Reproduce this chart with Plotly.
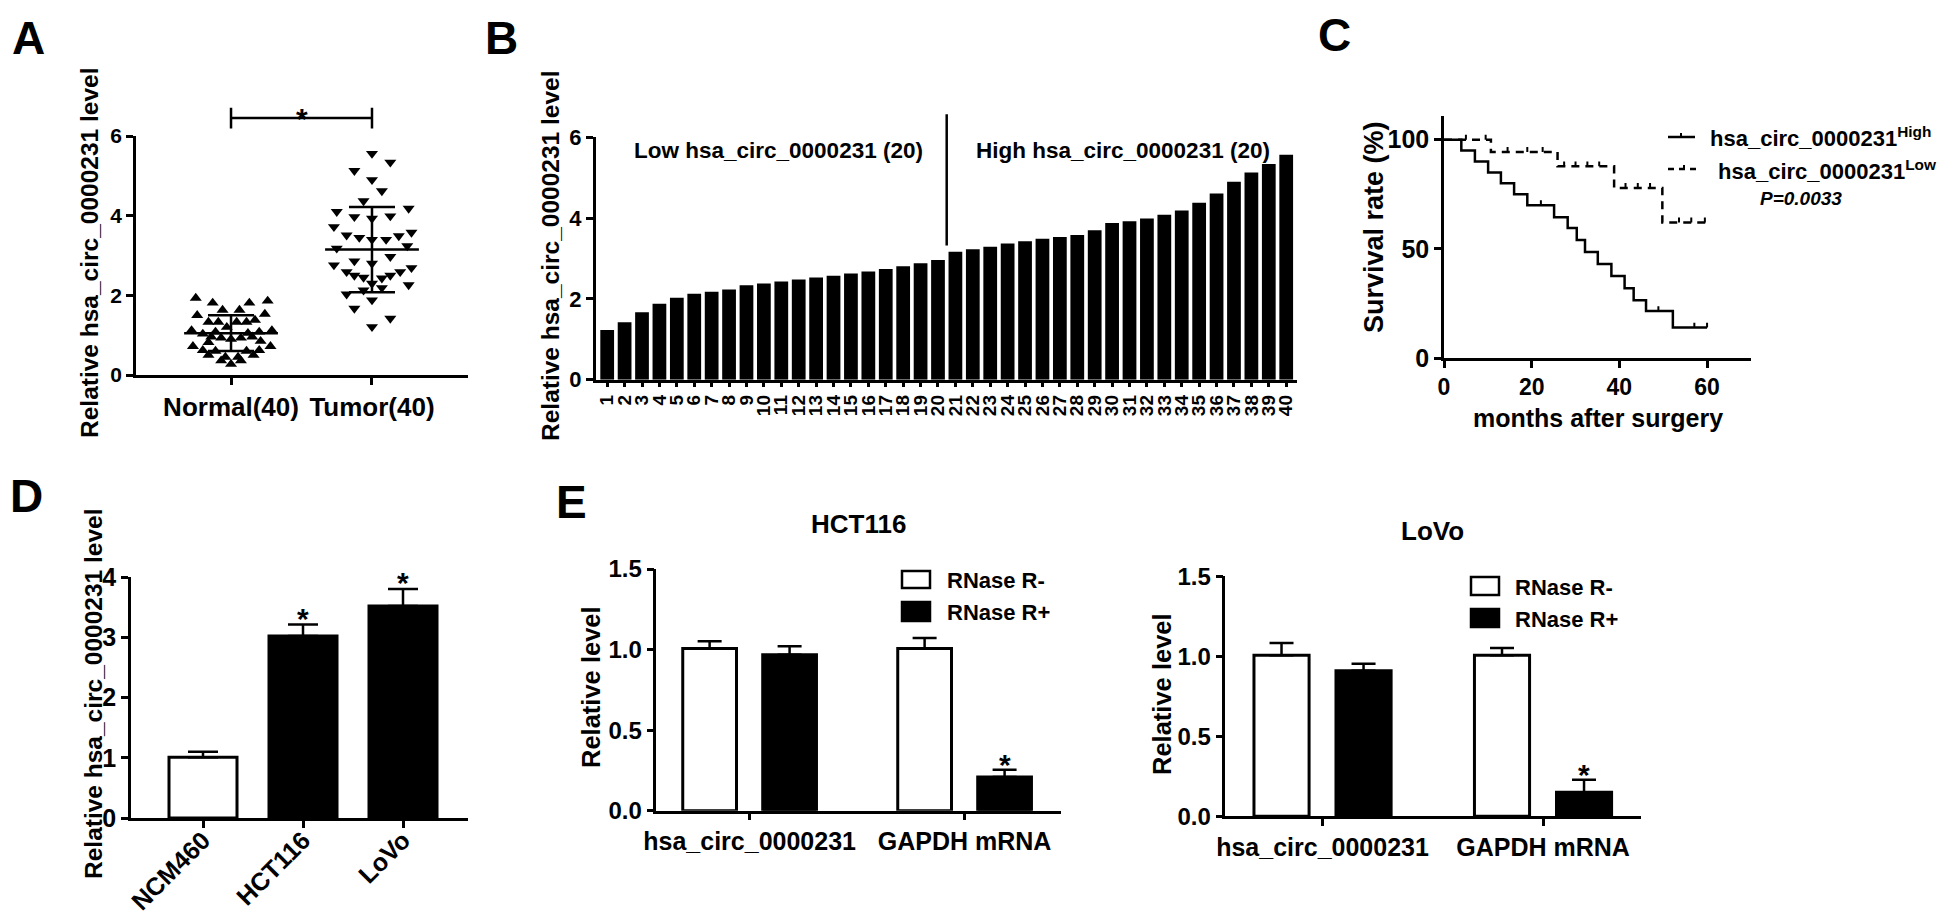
import plotly.graph_objects as go

W, H = 1946, 914
FONT = "Liberation Sans, Arial, sans-serif"

# ------------------------------------------------------------------ data
# Panel A: scatter (values and horizontal spread)
group_labels_a = ["Normal(40)", "Tumor(40)"]
normal_vals = [1.93, 1.81, 1.81, 1.86, 1.63, 1.63, 1.50, 1.53, 1.33, 1.33,
               1.33, 1.33, 1.38, 1.20, 1.12, 1.12, 1.03, 1.08, 0.96, 0.93,
               0.90, 0.93, 0.96, 0.82, 0.85, 0.72, 0.72, 0.62, 0.62, 0.60,
               0.60, 0.50, 0.45, 0.45, 0.50, 0.36, 0.36, 0.27, 1.08, 1.05]
normal_spread = [-0.25, -0.13, 0.13, 0.26, -0.06, 0.06, -0.24, 0.24, -0.16, -0.09,
                 0.04, 0.11, 0.17, -0.03, -0.28, 0.29, -0.20, 0.20, -0.14, -0.07,
                 0.00, 0.07, 0.15, -0.16, 0.21, -0.27, 0.28, -0.20, 0.20, -0.11,
                 0.11, -0.16, -0.04, 0.05, 0.16, -0.07, 0.07, 0.00, -0.11, 0.12]
tumor_vals = [5.56, 5.34, 5.13, 4.90, 4.62, 4.37, 4.10, 4.18, 3.97, 3.93,
              3.99, 3.72, 3.51, 3.45, 3.40, 3.40, 3.49, 3.58, 3.18, 3.24,
              2.76, 2.86, 2.80, 2.97, 2.59, 2.69, 2.50, 2.45, 2.43, 2.50,
              2.59, 2.30, 2.26, 2.19, 2.03, 2.13, 1.88, 1.67, 1.42, 1.21]
tumor_spread = [0.00, 0.13, -0.125, 0.00, 0.07, -0.06, -0.25, 0.26, -0.125, 0.00,
                0.13, -0.27, -0.18, -0.09, 0.00, 0.10, 0.19, 0.28, -0.25, 0.25,
                -0.27, -0.125, 0.00, 0.13, -0.18, 0.28, -0.125, -0.06, 0.07, 0.13,
                0.20, 0.00, 0.26, 0.07, -0.18, -0.06, 0.00, -0.125, 0.13, 0.00]
normal_mean, normal_sd = 1.05, 0.45
tumor_mean, tumor_sd = 3.15, 1.07
sig_level_a = 6.45
sig_tick_a = 0.26

# Panel B: ranked samples
sample_ids = [str(i) for i in range(1, 41)]
sample_levels = [1.23, 1.42, 1.67, 1.88, 2.03, 2.13, 2.18, 2.23, 2.34, 2.38,
                 2.43, 2.48, 2.53, 2.57, 2.63, 2.68, 2.74, 2.81, 2.88, 2.96,
                 3.17, 3.23, 3.29, 3.37, 3.43, 3.49, 3.53, 3.58, 3.70, 3.88,
                 3.92, 3.99, 4.08, 4.19, 4.38, 4.61, 4.90, 5.13, 5.34, 5.57]
split_text = ["Low hsa_circ_0000231 (20)", "High hsa_circ_0000231 (20)"]
split_line_range = [3.32, 6.57]
split_text_level = 5.68

# Panel C: Kaplan-Meier
high_time = [0, 3.95, 7.05, 10.06, 12.98, 15.99, 19.0, 25.11, 28.21, 30.28,
             32.16, 35.08, 38.18, 41.19, 43.26, 46.08, 52.2, 60]
high_surv = [100, 95, 90, 85, 80, 75, 70, 64.5, 59.5, 54, 48.5, 43, 37.5,
             32, 26.5, 21.5, 14, 14]
high_cens_t = [22.1, 48.9, 57.1, 60]
high_cens_s = [70, 21.5, 14, 14]
low_time = [0, 10.7, 25.9, 38.8, 49.8, 60]
low_surv = [100, 94.4, 87.8, 77.9, 62.1, 62.1]
low_cens_t = [5, 9.5, 14.5, 19, 22.5, 27.4, 30, 32.7, 35.4, 41.4, 44.2, 47, 53.6, 56.4, 59.5]
low_cens_s = [100, 100, 94.4, 94.4, 94.4, 87.8, 87.8, 87.8, 87.8, 77.9, 77.9, 77.9, 62.1, 62.1, 62.1]
p_value_text = "P=0.0033"

# Panel D: cell lines
cell_lines = ["NCM460", "HCT116", "LoVo"]
cell_levels = [1.01, 3.02, 3.52]
cell_err = [0.09, 0.19, 0.28]
cell_sig = ["", "*", "*"]

# Panel E: RNase R
e_genes = ["hsa_circ_0000231", "GAPDH mRNA"]
hct_minus = [1.006, 1.006]
hct_minus_err = [0.045, 0.066]
hct_plus = [0.968, 0.209]
hct_plus_err = [0.052, 0.045]
lovo_minus = [1.006, 1.006]
lovo_minus_err = [0.077, 0.046]
lovo_plus = [0.910, 0.150]
lovo_plus_err = [0.044, 0.079]
e_sig_plus = ["", "*"]

# ------------------------------------------------------------------ helpers
def dx(a, b):
    return [a / W, b / W]

def dy(top, bottom):
    return [1 - bottom / H, 1 - top / H]

def pxx(x):
    return x / W

def pyy(y):
    return 1 - y / H

BLACK = "black"
LW = 2.5
CENSOR_TICK = 2.2   # height of the censor tick, in survival-% units

def tf(size):
    return dict(family=FONT, size=size, color=BLACK, weight="bold")

def axis(**kw):
    base = dict(showline=True, linecolor=BLACK, linewidth=LW, ticks="outside",
                tickcolor=BLACK, tickwidth=LW, ticklen=7, showgrid=False,
                zeroline=False, automargin=False, fixedrange=True,
                tickfont=tf(21))
    base.update(kw)
    return base

def hidden(**kw):
    base = dict(visible=False, showgrid=False, zeroline=False, automargin=False,
                fixedrange=True)
    base.update(kw)
    return base

fig = go.Figure()

# ---------------- Panel A
fig.add_trace(go.Scatter(
    x=[0 + s for s in normal_spread], y=normal_vals, mode="markers",
    marker=dict(symbol="triangle-up", size=10.5, color=BLACK),
    xaxis="x", yaxis="y", cliponaxis=False))
fig.add_trace(go.Scatter(
    x=[1 + s for s in tumor_spread], y=tumor_vals, mode="markers",
    marker=dict(symbol="triangle-down", size=10.5, color=BLACK),
    xaxis="x", yaxis="y", cliponaxis=False))
for gi, (m, sd) in enumerate([(normal_mean, normal_sd), (tumor_mean, tumor_sd)]):
    fig.add_trace(go.Scatter(
        x=[gi], y=[m], mode="markers",
        marker=dict(symbol="line-ew", size=67, color=BLACK,
                    line=dict(width=LW, color=BLACK)),
        error_y=dict(type="data", array=[sd], visible=True, color=BLACK,
                     thickness=LW, width=23),
        xaxis="x", yaxis="y", cliponaxis=False))
# significance bracket (overlay axis sharing A's scale)
fig.add_trace(go.Scatter(
    x=[0, 0, None, 0, 1, None, 1, 1],
    y=[sig_level_a - sig_tick_a, sig_level_a + sig_tick_a, None,
       sig_level_a, sig_level_a, None,
       sig_level_a - sig_tick_a, sig_level_a + sig_tick_a],
    mode="lines", line=dict(color=BLACK, width=LW),
    xaxis="x2", yaxis="y2"))

# ---------------- Panel B
fig.add_trace(go.Bar(x=sample_ids, y=sample_levels, width=0.79,
                     marker=dict(color=BLACK, line=dict(width=0)),
                     xaxis="x3", yaxis="y3"))
fig.add_trace(go.Scatter(x=[19.5, 19.5], y=split_line_range, mode="lines",
                         line=dict(color=BLACK, width=LW),
                         xaxis="x4", yaxis="y4"))

# ---------------- Panel C
fig.add_trace(go.Scatter(x=high_time, y=high_surv, mode="lines", line_shape="hv",
                         line=dict(color=BLACK, width=LW),
                         xaxis="x5", yaxis="y5"))
fig.add_trace(go.Scatter(x=low_time, y=low_surv, mode="lines", line_shape="hv",
                         line=dict(color=BLACK, width=LW, dash="8px,6px"),
                         xaxis="x5", yaxis="y5"))
# censor ticks: short upward strokes drawn as one-sided error bars
for tt, ss in [(high_cens_t, high_cens_s), (low_cens_t, low_cens_s)]:
    fig.add_trace(go.Scatter(x=tt, y=ss, mode="markers",
                             marker=dict(size=1, color="rgba(0,0,0,0)"),
                             error_y=dict(type="constant", value=CENSOR_TICK,
                                          valueminus=0, symmetric=False,
                                          visible=True, color=BLACK,
                                          thickness=2, width=0),
                             xaxis="x5", yaxis="y5", cliponaxis=False))

# ---------------- Panel D
fig.add_trace(go.Bar(
    x=cell_lines, y=cell_levels, width=0.68,
    marker=dict(color=["white", BLACK, BLACK], line=dict(color=BLACK, width=3)),
    error_y=dict(type="data", array=cell_err, arrayminus=[0] * len(cell_err),
                 symmetric=False, visible=True, color=BLACK, thickness=LW, width=15),
    xaxis="x6", yaxis="y6"))

# ---------------- Panel E
for (minus, minus_err, plus, plus_err, xa, ya) in [
        (hct_minus, hct_minus_err, hct_plus, hct_plus_err, "x7", "y7"),
        (lovo_minus, lovo_minus_err, lovo_plus, lovo_plus_err, "x8", "y8")]:
    fig.add_trace(go.Bar(
        x=e_genes, y=minus, name="RNase R-",
        marker=dict(color="white", line=dict(color=BLACK, width=3)),
        error_y=dict(type="data", array=minus_err, arrayminus=[0, 0], symmetric=False,
                     visible=True, color=BLACK, thickness=LW, width=12),
        xaxis=xa, yaxis=ya))
    fig.add_trace(go.Bar(
        x=e_genes, y=plus, name="RNase R+",
        marker=dict(color=BLACK, line=dict(color=BLACK, width=3)),
        error_y=dict(type="data", array=plus_err, arrayminus=[0, 0], symmetric=False,
                     visible=True, color=BLACK, thickness=LW, width=12),
        xaxis=xa, yaxis=ya))

BARGAP = 0.256
BARGROUPGAP = 0.328
group_off = (1 - BARGAP) / 4

# ------------------------------------------------------------------ layout
lay = dict(
    width=W, height=H, margin=dict(l=0, r=0, t=0, b=0),
    paper_bgcolor="white", plot_bgcolor="rgba(0,0,0,0)",
    showlegend=False, template="none",
    barmode="group", bargap=BARGAP, bargroupgap=BARGROUPGAP,
    font=dict(family=FONT, color=BLACK),
)
# A
lay["xaxis"] = axis(domain=dx(128, 460), range=[-0.674, 1.681], anchor="y",
                    tickvals=[0, 1], ticktext=group_labels_a, tickangle=0,
                    tickfont=tf(26))
lay["yaxis"] = axis(domain=dy(128, 367), range=[0, 6], anchor="x",
                    tickvals=[0, 2, 4, 6])
lay["xaxis2"] = hidden(domain=dx(128, 460), range=[-0.674, 1.681], anchor="y2")
lay["yaxis2"] = hidden(domain=dy(128 - 0.9 * 239 / 6, 367), range=[0, 6.9], anchor="x2")
# B
lay["xaxis3"] = axis(domain=dx(587.7, 1289), range=[-0.66, 39.62], anchor="y3",
                     type="category", tickangle=-90, ticklen=5, tickfont=tf(19),
                     tickmode="array", tickvals=sample_ids, ticktext=sample_ids)
lay["yaxis3"] = axis(domain=dy(129.3, 371.7), range=[0, 6], anchor="x3",
                     tickvals=[0, 2, 4, 6], tickfont=tf(22))
lay["xaxis4"] = hidden(domain=dx(587.7, 1289), range=[-0.66, 39.62], anchor="y4")
lay["yaxis4"] = hidden(domain=dy(129.3 - 0.7 * 242.4 / 6, 371.7), range=[0, 6.7], anchor="x4")
# C
lay["xaxis5"] = axis(domain=dx(1436, 1742.9), range=[0, 70], anchor="y5",
                     tickvals=[0, 20, 40, 60], tickfont=tf(23))
lay["yaxis5"] = axis(domain=dy(108.3, 350), range=[0, 110.7], anchor="x5",
                     tickvals=[0, 50, 100], tickfont=tf(25))
# D
lay["xaxis6"] = axis(domain=dx(123, 460), range=[-0.72, 2.65], anchor="y6",
                     type="category", tickangle=-45, tickfont=tf(25),
                     ticklabelstandoff=-12)
lay["yaxis6"] = axis(domain=dy(569, 810), range=[0, 4], anchor="x6",
                     tickvals=[0, 1, 2, 3, 4], tickfont=tf(25))
# E left / right
lay["xaxis7"] = axis(domain=dx(648.3, 1052.7), range=[-0.434, 1.447], anchor="y7",
                     type="category", tickangle=0, tickfont=tf(25))
lay["yaxis7"] = axis(domain=dy(561, 802.7), range=[0, 1.5], anchor="x7",
                     tickvals=[0, 0.5, 1.0, 1.5], tickformat=".1f", tickfont=tf(24))
lay["xaxis8"] = axis(domain=dx(1217.3, 1632.7), range=[-0.441, 1.443], anchor="y8",
                     type="category", tickangle=0, tickfont=tf(25))
lay["yaxis8"] = axis(domain=dy(568.3, 808.3), range=[0, 1.5], anchor="x8",
                     tickvals=[0, 0.5, 1.0, 1.5], tickformat=".1f", tickfont=tf(24))
fig.update_layout(**lay)

# ------------------------------------------------------------------ annotations
def ptext(text, x, y, size, xanchor="center", angle=0, italic=False):
    fig.add_annotation(text=text, x=pxx(x), y=pyy(y), xref="paper", yref="paper",
                       xanchor=xanchor, yanchor="middle", showarrow=False,
                       textangle=angle,
                       font=dict(family=FONT, size=size, color=BLACK, weight="bold",
                                 style="italic" if italic else "normal"))

# panel letters
for letter, x, y in [("A", 2, 30), ("B", 475, 30), ("C", 1308, 27),
                     ("D", 0, 488), ("E", 546, 494)]:
    ptext(letter, x, y, 46, xanchor="left")

# axis titles
ptext("Relative hsa_circ_0000231 level", 82, 245, 24.5, angle=-90)
ptext("Relative hsa_circ_0000231 level", 542, 248, 24.5, angle=-90)
ptext("Survival rate (%)", 1366, 219, 27, angle=-90)
ptext("months after surgery", 1590, 410, 25)
ptext("Relative hsa_circ_0000231 level", 85, 686, 24.5, angle=-90)
ptext("Relative level", 583, 679, 25.5, angle=-90)
ptext("Relative level", 1154, 686, 25.5, angle=-90)
ptext("HCT116", 850, 516, 26)
ptext("LoVo", 1424, 523, 26)

# panel A significance star
fig.add_annotation(text="*", x=0.5, y=sig_level_a, xref="x2", yref="y2",
                   showarrow=False, yanchor="middle", yshift=0,
                   font=tf(30))

# panel B group labels
for txt, xc in zip(split_text, [9.84, 29.6]):
    fig.add_annotation(text=txt, x=xc, y=split_text_level, xref="x4", yref="y4",
                       showarrow=False, font=tf(22.5))

# panel C legend
fig.add_shape(type="line", xref="paper", yref="paper", x0=pxx(1660), x1=pxx(1687),
              y0=pyy(129), y1=pyy(129), line=dict(color=BLACK, width=LW))
fig.add_shape(type="line", xref="paper", yref="paper", x0=pxx(1673), x1=pxx(1673),
              y0=pyy(125), y1=pyy(129), line=dict(color=BLACK, width=2))
fig.add_shape(type="line", xref="paper", yref="paper", x0=pxx(1660), x1=pxx(1690),
              y0=pyy(161), y1=pyy(161), line=dict(color=BLACK, width=LW, dash="6px,5px"))
fig.add_shape(type="line", xref="paper", yref="paper", x0=pxx(1676), x1=pxx(1676),
              y0=pyy(157), y1=pyy(161), line=dict(color=BLACK, width=2))
ptext("hsa_circ_0000231<sup>High</sup>", 1700, 129, 22, xanchor="left")
ptext("hsa_circ_0000231<sup>Low</sup>", 1708, 162, 22, xanchor="left")
ptext(p_value_text, 1793, 191, 19, italic=True)

# panel D stars
for cat, v, e, s in zip(cell_lines, cell_levels, cell_err, cell_sig):
    if s:
        fig.add_annotation(text=s, x=cat, y=v + e, xref="x6", yref="y6",
                           showarrow=False, yanchor="bottom", yshift=-12,
                           font=tf(30))

# panel E stars
for xa, ya, vals, errs in [("x7", "y7", hct_plus, hct_plus_err),
                           ("x8", "y8", lovo_plus, lovo_plus_err)]:
    for i, s in enumerate(e_sig_plus):
        if s:
            fig.add_annotation(text=s, x=i + group_off, y=vals[i] + errs[i],
                               xref=xa, yref=ya, showarrow=False, yanchor="bottom",
                               yshift=-13, font=tf(30))

# panel E legends
for (x0, x1, ytop_w, ybot_w, ytop_b, ybot_b, tx, tyw, tyb) in [
        (894, 922, 563, 580, 594, 613, 937, 572, 604),
        (1463, 1491, 569, 587, 601, 619, 1505, 579, 611)]:
    fig.add_shape(type="rect", xref="paper", yref="paper", x0=pxx(x0), x1=pxx(x1),
                  y0=pyy(ybot_w), y1=pyy(ytop_w), fillcolor="white",
                  line=dict(color=BLACK, width=LW))
    fig.add_shape(type="rect", xref="paper", yref="paper", x0=pxx(x0), x1=pxx(x1),
                  y0=pyy(ybot_b), y1=pyy(ytop_b), fillcolor=BLACK,
                  line=dict(color=BLACK, width=LW))
    ptext("RNase R-", tx, tyw, 22, xanchor="left")
    ptext("RNase R+", tx, tyb, 22, xanchor="left")

fig.write_html("out.html")
